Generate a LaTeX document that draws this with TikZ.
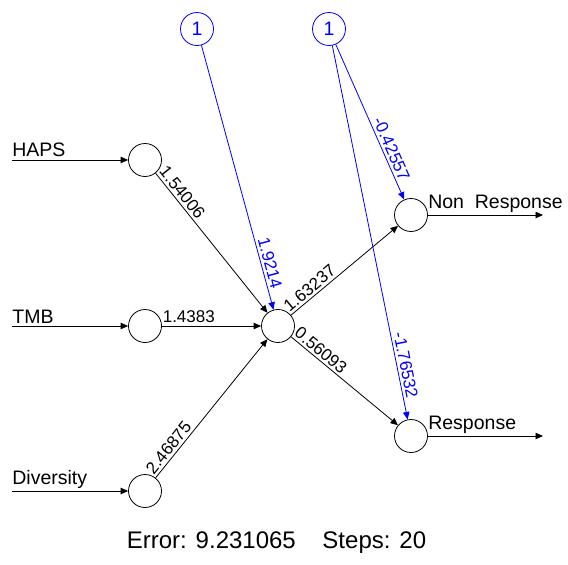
\documentclass[tikz,border=0pt]{standalone}
\usepackage{fontspec}
\setmainfont{Liberation Sans}
\usetikzlibrary{arrows.meta}

\begin{document}
\begin{tikzpicture}[x=1pt, y=-1pt,
        neuron/.style={draw, circle, minimum size=33pt, inner sep=0pt, line width=0.8pt},
        wire/.style={line width=0.8pt, -{Triangle[length=7.5pt, width=6.5pt]}},
        vlab/.style={font=\fontsize{19.5}{22}\selectfont, inner xsep=0pt, inner ysep=2.5pt},
        wlab/.style={font=\fontsize{17}{19}\selectfont, sloped, inner xsep=0.5pt, inner ysep=2.5pt}]
        \useasboundingbox (0,0) rectangle (568,565);

        % neurons
        \node[neuron] (haps) at (145,160) {};
        \node[neuron] (tmb) at (145,326) {};
        \node[neuron] (div) at (145,491) {};
        \node[neuron] (hid) at (278,326) {};
        \node[neuron] (nonresp) at (411,215) {};
        \node[neuron] (resp) at (411,436) {};
        \node[neuron, blue, font=\fontsize{19.5}{22}\selectfont] (biasA) at (197,29) {1};
        \node[neuron, blue, font=\fontsize{19.5}{22}\selectfont] (biasB) at (329,29) {1};

        % inputs and outputs
        \coordinate (inHaps) at (12,160);
        \coordinate (inTmb) at (12,326);
        \coordinate (inDiv) at (12,491);
        \coordinate (outNon) at (543,215);
        \coordinate (outResp) at (543,436);
        \draw[wire] (inHaps) node[vlab, anchor=south west] {HAPS} -- (haps);
        \draw[wire] (inTmb) node[vlab, anchor=south west] {TMB} -- (tmb);
        \draw[wire] (inDiv) node[vlab, anchor=south west] {Diversity} -- (div);
        \draw[wire] (nonresp) -- node[vlab, pos=0, anchor=south west] {Non\ \ Response} (outNon);
        \draw[wire] (resp) -- node[vlab, pos=0, anchor=south west] {Response} (outResp);

        % weights
        \draw[wire] (haps) -- node[wlab, pos=0, anchor=south west] {1.54006} (hid);
        \draw[wire] (tmb) -- node[wlab, pos=0, anchor=south west] {1.4383} (hid);
        \draw[wire] (div) -- node[wlab, pos=0, anchor=south west] {2.46875} (hid);
        \draw[wire] (hid) -- node[wlab, pos=0, anchor=south west] {1.63237} (nonresp);
        \draw[wire] (hid) -- node[wlab, pos=0, anchor=south west] {0.56093} (resp);

        % bias weights
        \draw[wire, blue] (biasA) -- node[wlab, pos=0.93, anchor=south east] {1.9214} (hid);
        \draw[wire, blue] (biasB) -- node[wlab, pos=0.9, anchor=south east] {-0.42557} (nonresp);
        \draw[wire, blue] (biasB) -- node[wlab, pos=0.95, anchor=south east] {-1.76532} (resp);

        \node[font=\fontsize{24}{26}\selectfont, anchor=base] (info) at (276.5,548)
            {Error: 9.231065\ \ \ \ Steps: 20};
    \end{tikzpicture}
\end{document}
